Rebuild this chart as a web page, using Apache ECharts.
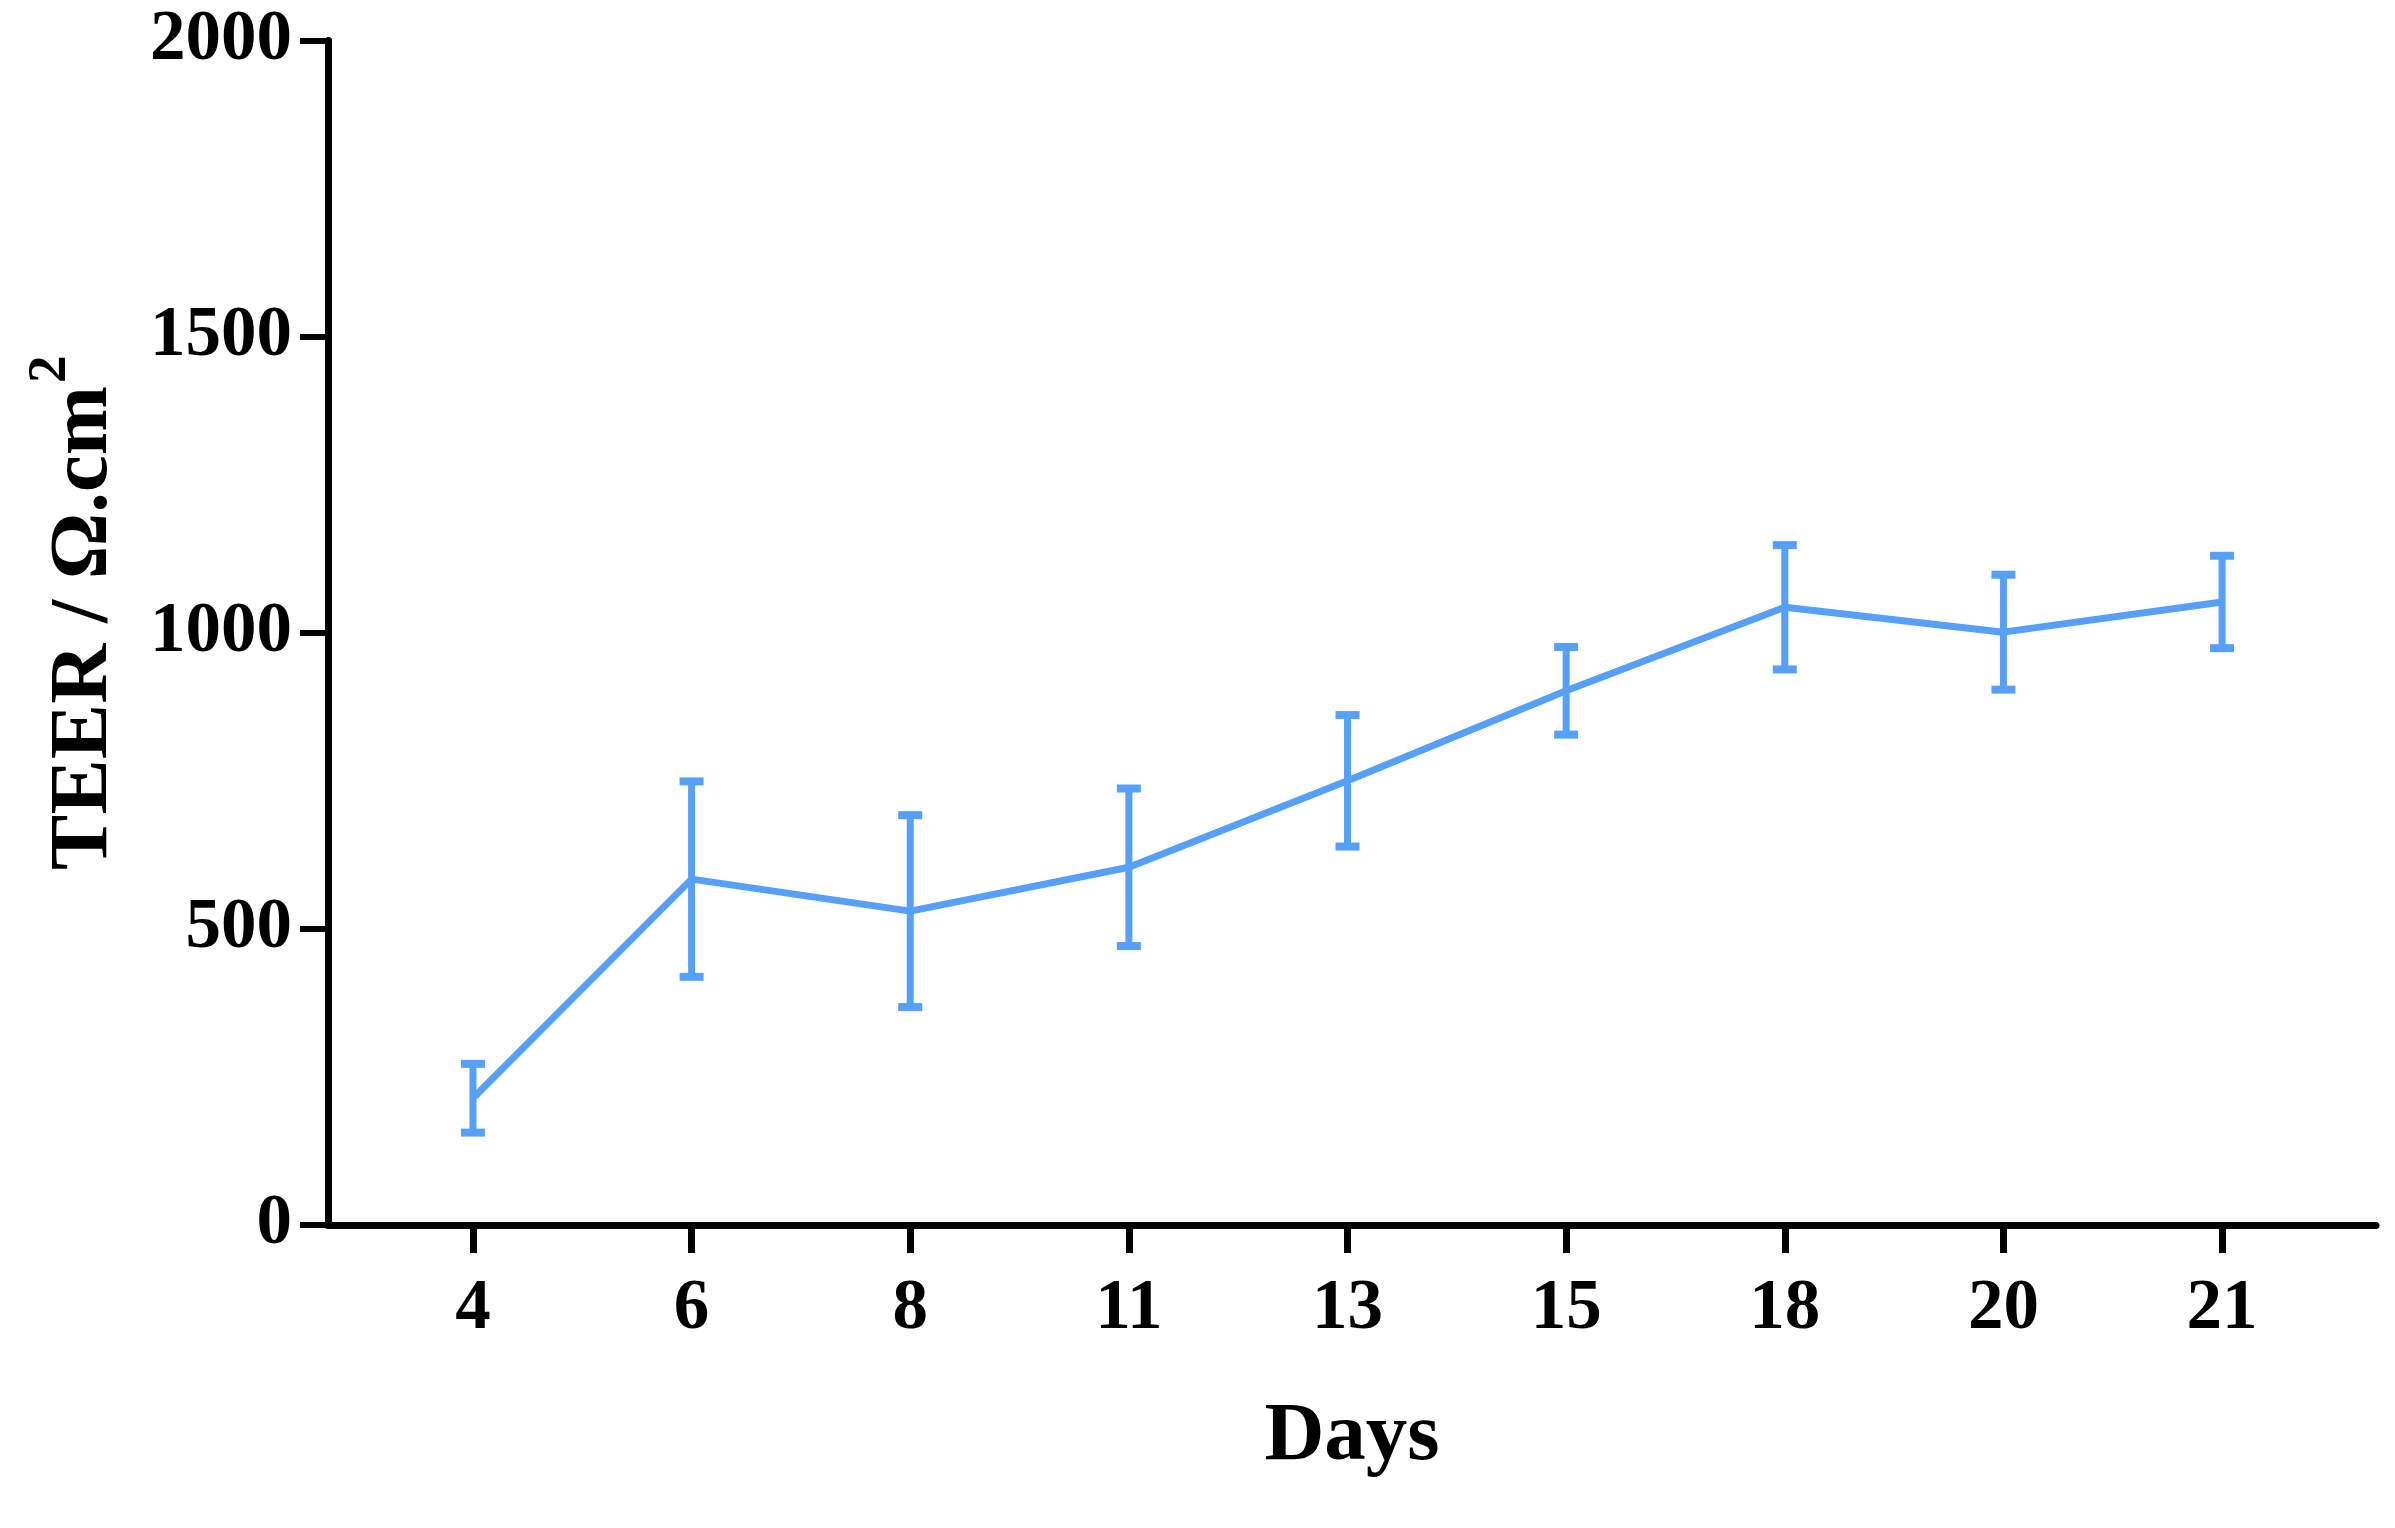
<!DOCTYPE html>
<html>
<head>
<meta charset="utf-8">
<script src="https://cdn.jsdelivr.net/npm/echarts@6/dist/echarts.min.js"></script>
<style>
html,body{margin:0;padding:0;background:#fff;}
#chart{width:2395px;height:1528px;}
</style>
</head>
<body>
<div id="chart"></div>
<script>
const categories = ['4', '6', '8', '11', '13', '15', '18', '20', '21'];
const teerMean = [214, 584, 530, 604, 750, 902, 1043, 1001, 1052];
const teerErr = [58, 165, 162, 133, 111, 74, 105, 97, 78];
const xAxisTitle = 'Days';
const yAxisTitle = 'TEER / Ω.cm';

const FONT = '"Liberation Serif", "Times New Roman", serif';
const BLUE = '#56A0FA';

const lineData = teerMean.map((v, i) => [i, v]);
const errData = teerMean.map((v, i) => [i, v - teerErr[i], v + teerErr[i]]);
const catIdx = categories.map((c, i) => i);

const chart = echarts.init(document.getElementById('chart'), null, {renderer: 'canvas'});
chart.setOption({
  backgroundColor: '#ffffff',
  animation: false,
  grid: {left: 328, right: 19, top: 40.5, bottom: 303, containLabel: false, outerBoundsMode: 'none'},
  xAxis: {
    type: 'value',
    min: -0.663,
    max: 8.704,
    splitLine: {show: false},
    axisLine: {show: true, onZero: false, lineStyle: {color: '#000', width: 7}},
    axisTick: {show: true, customValues: catIdx, length: 28, lineStyle: {color: '#000', width: 7}},
    axisLabel: {
      show: true, customValues: catIdx, margin: 49,
      formatter: v => categories[Math.round(v)],
      color: '#000', fontFamily: FONT, fontWeight: 'bold', fontSize: 71
    },
    name: xAxisTitle,
    nameLocation: 'middle',
    nameGap: 171,
    nameTextStyle: {color: '#000', fontFamily: FONT, fontWeight: 'bold', fontSize: 83}
  },
  yAxis: {
    type: 'value',
    min: 0,
    max: 2000,
    interval: 500,
    splitLine: {show: false},
    axisLine: {show: true, onZero: false, lineStyle: {color: '#000', width: 7}},
    axisTick: {show: true, length: 28, lineStyle: {color: '#000', width: 6}},
    axisLabel: {
      margin: 36, color: '#000', fontFamily: FONT, fontWeight: 'bold', fontSize: 71,
      formatter: v => String(v)
    },
    name: '{t|' + yAxisTitle + '}{s|2}',
    nameLocation: 'middle',
    nameGap: 181,
    nameRotate: 90,
    nameTextStyle: {
      color: '#000',
      padding: [0, 0, 0, 40],
      rich: {
        t: {fontFamily: FONT, fontWeight: 'bold', fontSize: 83, lineHeight: 124, color: '#000'},
        s: {fontFamily: FONT, fontWeight: 'bold', fontSize: 55, color: '#000', verticalAlign: 'top', padding: [0, 0, 0, 3]}
      }
    }
  },
  series: [
    {
      type: 'line',
      data: lineData,
      symbol: 'none',
      lineStyle: {color: BLUE, width: 7},
      z: 3
    },
    {
      type: 'custom',
      data: errData,
      encode: {x: 0, y: [1, 2]},
      z: 4,
      renderItem: function (params, api) {
        const x = api.value(0);
        const lo = api.coord([x, api.value(1)]);
        const hi = api.coord([x, api.value(2)]);
        const hw = 12;
        const st = {stroke: BLUE, lineWidth: 7};
        const cap = {stroke: BLUE, lineWidth: 8};
        return {
          type: 'group',
          children: [
            {type: 'line', shape: {x1: lo[0], y1: lo[1], x2: hi[0], y2: hi[1]}, style: st},
            {type: 'line', shape: {x1: lo[0] - hw, y1: lo[1], x2: lo[0] + hw, y2: lo[1]}, style: cap},
            {type: 'line', shape: {x1: hi[0] - hw, y1: hi[1], x2: hi[0] + hw, y2: hi[1]}, style: cap}
          ]
        };
      }
    }
  ]
});
</script>
</body>
</html>
